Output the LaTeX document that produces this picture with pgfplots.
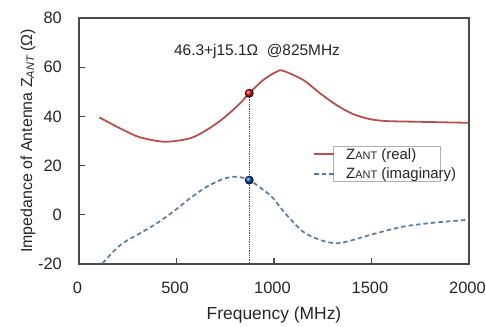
\documentclass[border=0pt]{standalone}
\usepackage{fontspec}
\setmainfont{Liberation Sans}
\usepackage{pgfplots}
\pgfplotsset{compat=1.18}
\definecolor{realc}{HTML}{B5504D}
\definecolor{imagc}{HTML}{5B7AA3}
\definecolor{axc}{HTML}{4A4A4A}
\definecolor{boxc}{HTML}{B0B0B0}
\begin{document}
\begin{tikzpicture}
\begin{axis}[
  at={(0,0)}, anchor=south west,
  scale only axis, width=390bp, height=246bp,
  xmin=0, xmax=2000, ymin=-20, ymax=80,
  xtick={0,500,1000,1500,2000},
  xticklabels={0,500,1000,1500,2000},
  ytick={-20,0,20,40,60,80},
  yticklabels={-20,0,20,40,60,80},
  tick align=inside, xtick pos=bottom, ytick pos=left,
  major tick length=6bp,
  axis line style={axc, line width=1.3bp},
  every tick/.style={axc, line width=1.1bp},
  tick label style={font=\fontsize{16.5}{20}\selectfont, text=black!85},
  yticklabel style={anchor=east, inner sep=0pt, xshift=-17bp},
  xticklabel style={anchor=north, inner sep=0pt, yshift=-18bp, xshift=-1.5bp},
  xlabel={Frequency (MHz)},
  ylabel={Impedance of Antenna Z\raisebox{-0.25ex}{\fontsize{11}{11}\selectfont\itshape ANT} (Ω)},
  xlabel style={at={(axis description cs:0.5,-0.1748)}, anchor=north, inner sep=0pt, font=\fontsize{17.5}{20}\selectfont, text=black!85},
  ylabel style={at={(axis description cs:-0.1205,0.5)}, anchor=base, inner sep=0pt, font=\fontsize{16}{19}\selectfont, text=black!85},
  legend style={at={(rel axis cs:0.6513,0.4797)}, anchor=north west, draw=boxc, line width=0.8bp, fill=white,
    font=\fontsize{15}{18}\selectfont, inner xsep=0pt, inner ysep=1.8bp, row sep=7bp, column sep=0pt,
    nodes={inner sep=0pt, text=black!85}},
  legend cell align=left,
  legend image code/.code={\draw[#1,overlay] (-20bp,0) -- (0bp,0); \path (0,0) (11bp,0);},
  clip=false,
]
\addplot[realc, line width=1.8bp, smooth] coordinates {
(104,39.6) (170,36.8) (227,34.5) (313,31.5) (441,29.7) (569,31.1) (655,34.5) (740,39.2)
(826,45.3) (873,49.4) (945,54.8) (1014,58.2) (1048,58.5) (1150,54.8)
(1236,49.4) (1321,44.6) (1407,40.9) (1492,38.9) (1578,38.1) (1749,37.8)
(1870,37.6) (2000,37.4)
};
\addlegendentry{\makebox[94bp][l]{Z{\fontsize{11}{11}\selectfont ANT} (real)}}
\addplot[imagc, line width=1.7bp, dash pattern=on 4.5bp off 3bp, smooth] coordinates {
(121,-19.7) (176,-15.0) (227,-11.4) (313,-7.5) (398,-3.5) (484,1.3) (569,6.7)
(655,11.4) (740,14.6) (809,15.5) (873,14.1) (930,11.0) (990,7.2) (1065,-0.1)
(1150,-6.9) (1236,-10.2) (1321,-11.6) (1407,-10.2) (1492,-8.2) (1663,-4.8)
(1834,-3.1) (2000,-2.0)
};
\addlegendentry{\makebox[94bp][l]{Z{\fontsize{11}{11}\selectfont ANT} (imaginary)}}
\addplot[black!70, line width=0.8bp, densely dotted, forget plot] coordinates {(873,49.4) (873,-20)};
\addplot[only marks, mark=ball, mark size=4.2bp, mark options={ball color=red!85!black}, forget plot] coordinates {(873,49.4)};
\addplot[only marks, mark=ball, mark size=4.2bp, mark options={ball color=blue!60!cyan!70!black}, forget plot] coordinates {(873,14.1)};
\node[anchor=base, font=\fontsize{15.5}{18}\selectfont, text=black!85] at (axis cs:913,64.6) {46.3+j15.1Ω\ \ @825MHz};
\end{axis}
\pgfresetboundingbox
\path (-79bp,-63bp) rectangle (407bp,264bp);
\end{tikzpicture}
\end{document}
